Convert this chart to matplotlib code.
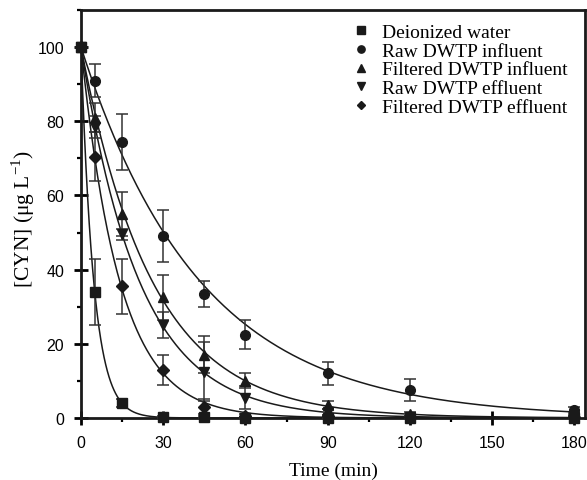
"""CYN degradation over time in different water matrices."""

import numpy as np
import matplotlib

matplotlib.use("Agg")
import matplotlib.pyplot as plt
from matplotlib.ticker import MultipleLocator

# ── Data ─────────────────────────────────────────────────────────────
time_min = [0, 5, 15, 30, 45, 60, 90, 120, 180]

labels = [
    "Deionized water",
    "Raw DWTP influent",
    "Filtered DWTP influent",
    "Raw DWTP effluent",
    "Filtered DWTP effluent",
]
markers = ["s", "o", "^", "v", "D"]

deionized = [100, 34.0, 4.0, 0.2, 0.3, 0.1, 0.1, 0.1, 0.1]
deionized_err = [0.5, 9.0, 1.0, 0.3, 0.3, 0.2, 0.2, 0.2, 0.2]

raw_influent = [100, 91.0, 74.5, 49.0, 33.5, 22.5, 12.0, 7.5, 2.2]
raw_influent_err = [0.5, 4.5, 7.5, 7.0, 3.5, 4.0, 3.0, 3.0, 0.8]

filt_influent = [100, 81.0, 55.0, 32.5, 17.0, 10.0, 3.5, 1.0, 0.5]
filt_influent_err = [0.5, 4.0, 6.0, 6.0, 5.0, 2.0, 1.0, 0.5, 0.3]

raw_effluent = [100, 78.5, 49.5, 25.0, 12.5, 5.5, 1.5, 0.3, 0.3]
raw_effluent_err = [0.5, 3.0, 1.5, 3.5, 8.0, 3.0, 0.8, 0.3, 0.3]

filt_effluent = [100, 70.5, 35.5, 13.0, 3.0, 0.5, 0.5, 0.2, 0.2]
filt_effluent_err = [0.5, 6.5, 7.5, 4.0, 2.0, 0.5, 0.3, 0.2, 0.2]

series = [deionized, raw_influent, filt_influent, raw_effluent, filt_effluent]
errors = [deionized_err, raw_influent_err, filt_influent_err, raw_effluent_err, filt_effluent_err]


def first_order_rate(t, c):
    """Log-linear least squares fit of C = 100 exp(-k t), using points above 1."""
    t = np.asarray(t, dtype=float)
    c = np.asarray(c, dtype=float)
    mask = (c > 1.0) & (t > 0)
    y = np.log(c[mask] / 100.0)
    x = t[mask]
    w = c[mask]
    return -np.sum(w * x * y) / np.sum(w * x * x)


plt.rcParams["font.family"] = ["Liberation Serif", "DejaVu Serif"]
plt.rcParams["mathtext.fontset"] = "custom"
plt.rcParams["mathtext.rm"] = "Liberation Serif"

fig = plt.figure(figsize=(5.87, 4.81), dpi=100)
ax = fig.add_axes([0.138, 0.129, 0.859, 0.848])

t_fine = np.linspace(0, 180, 600)
for vals, errs, mk, lab in zip(series, errors, markers, labels):
    k = first_order_rate(time_min, vals)
    ax.plot(t_fine, 100 * np.exp(-k * t_fine), color="#1a1a1a", lw=1.1, zorder=2)
    ax.errorbar(
        time_min, vals, yerr=errs, fmt="none", ecolor="#333333",
        elinewidth=1.1, capsize=4, capthick=1.1, zorder=3,
    )
    ax.plot(
        time_min, vals, linestyle="none", marker=mk, color="#1a1a1a",
        markersize=7 if mk != "D" else 6, label=lab, zorder=4, clip_on=False,
    )

ax.set_xlim(0, 184)
ax.set_ylim(0, 110)
ax.xaxis.set_major_locator(MultipleLocator(30))
ax.xaxis.set_minor_locator(MultipleLocator(15))
ax.yaxis.set_major_locator(MultipleLocator(20))
ax.yaxis.set_minor_locator(MultipleLocator(10))

ax.tick_params(which="major", direction="inout", length=10, width=2,
               labelsize=11.5, pad=7, top=False, right=False)
ax.tick_params(which="minor", direction="out", length=3, width=1.6,
               top=False, right=False)
for lbl in ax.get_xticklabels() + ax.get_yticklabels():
    lbl.set_fontfamily("Liberation Sans")
for spine in ax.spines.values():
    spine.set_linewidth(2)
    spine.set_color("#1a1a1a")

ax.set_xlabel("Time (min)", fontsize=14, labelpad=9)
ax.set_ylabel("[CYN] (μg L$^{\\mathregular{-1}}$)", fontsize=15.5)
ax.yaxis.set_label_coords(-0.088, 0.49)

ax.legend(loc="upper right", frameon=False, fontsize=14, handletextpad=0.6,
          labelspacing=0.05, borderaxespad=0.3, handlelength=1.0,
          markerscale=0.75, bbox_to_anchor=(0.993, 1.0))

fig.savefig("out.png", dpi=100)
